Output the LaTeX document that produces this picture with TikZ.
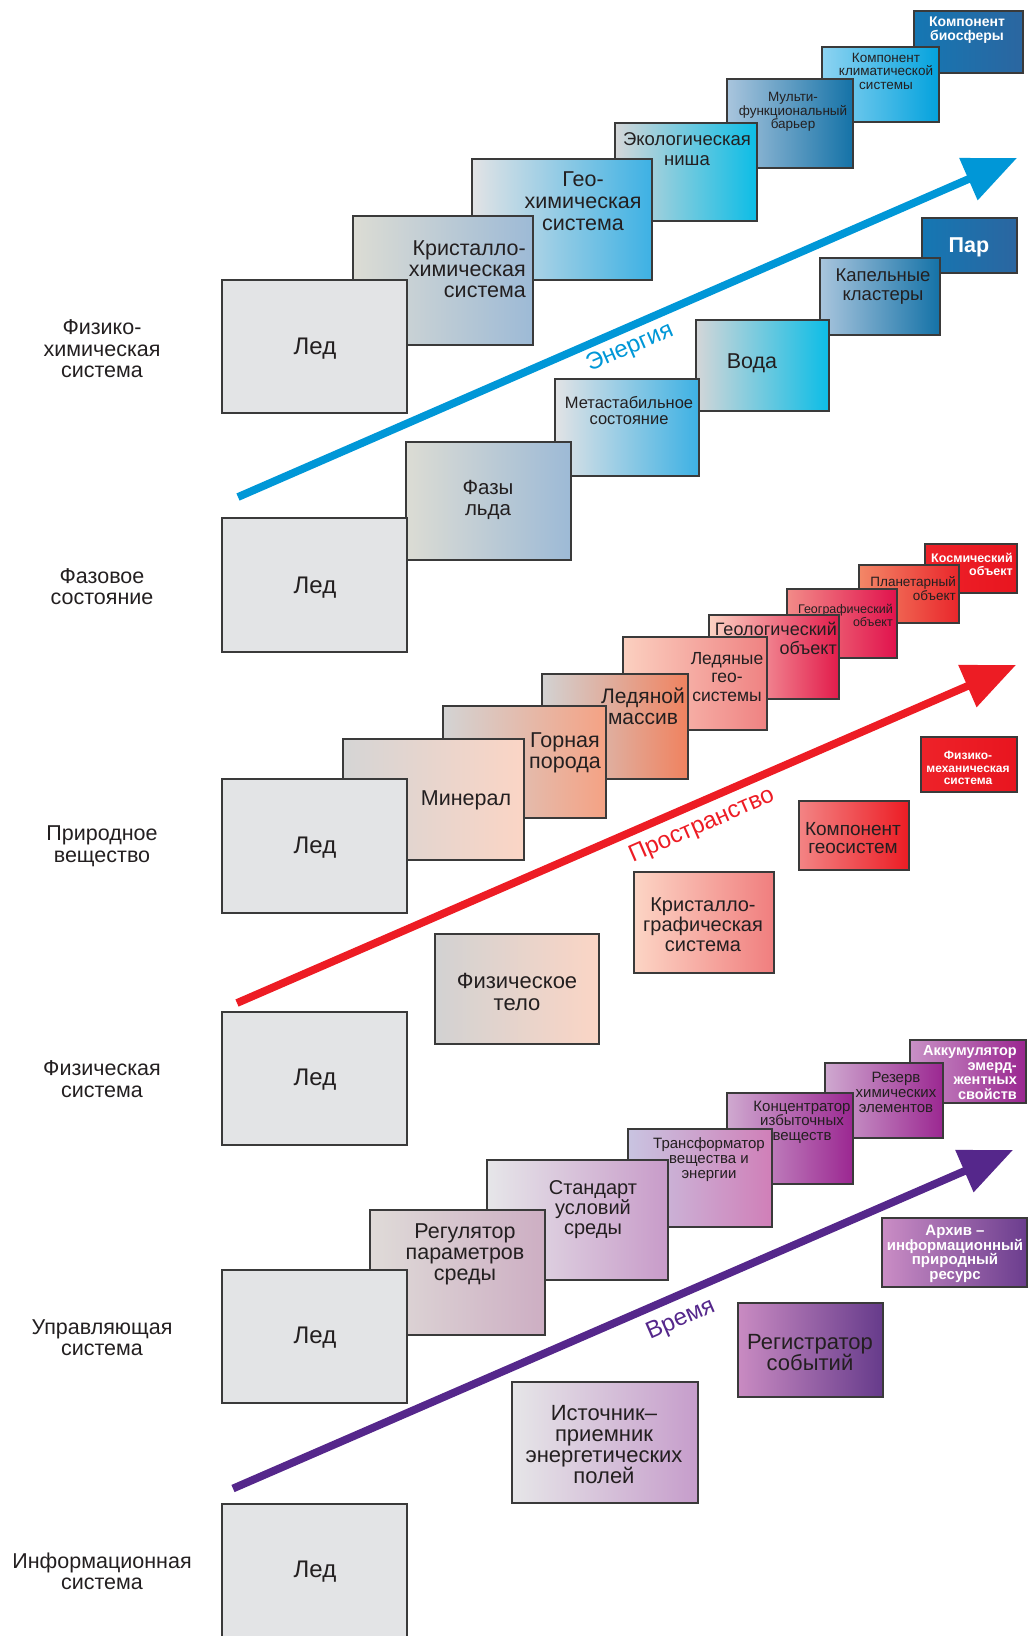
\documentclass[tikz,border=0pt]{standalone}
\usepackage{fontspec}
\setmainfont{Liberation Sans}
\usetikzlibrary{arrows.meta,fit}
\newcommand\fsz[2]{\fontsize{#1}{#2}\selectfont}
\definecolor{boxgray}{HTML}{3A3A3A}
\definecolor{textdark}{HTML}{231F20}
\definecolor{icegray}{HTML}{E3E4E6}
\definecolor{arrblue}{HTML}{0097D7}
\definecolor{arrred}{HTML}{ED1C24}
\definecolor{arrpurple}{HTML}{55278B}
\definecolor{dbL}{HTML}{1577B3}\definecolor{dbR}{HTML}{2B66A0}
\definecolor{kkL}{HTML}{8DD3F1}\definecolor{kkR}{HTML}{03A2DD}
\definecolor{muL}{HTML}{A9C5DD}\definecolor{muR}{HTML}{1472A7}
\definecolor{ekL}{HTML}{D4D6D8}\definecolor{ekR}{HTML}{0CBDE6}
\definecolor{geL}{HTML}{E2E3E5}\definecolor{geR}{HTML}{3DB1E4}
\definecolor{krL}{HTML}{DCDCD4}\definecolor{krR}{HTML}{9DBAD6}
\definecolor{rdL}{HTML}{EE2229}\definecolor{rdR}{HTML}{E8151F}
\definecolor{plL}{HTML}{F38767}\definecolor{plR}{HTML}{E9262B}
\definecolor{ggL}{HTML}{F28B88}\definecolor{ggR}{HTML}{E1124D}
\definecolor{glL}{HTML}{FCD3C3}\definecolor{glR}{HTML}{E21B4B}
\definecolor{lgL}{HTML}{FBD0C0}\definecolor{lgR}{HTML}{EF8282}
\definecolor{lmL}{HTML}{D2D2D2}\definecolor{lmR}{HTML}{F0825F}
\definecolor{gpL}{HTML}{D3D3D3}\definecolor{gpR}{HTML}{F5A284}
\definecolor{mnL}{HTML}{D5D5D5}\definecolor{mnR}{HTML}{FBD5C5}
\definecolor{kgL}{HTML}{F38484}\definecolor{kgR}{HTML}{EC1C24}
\definecolor{kgrL}{HTML}{FCD5C5}\definecolor{kgrR}{HTML}{F07E7E}
\definecolor{akL}{HTML}{C891C6}\definecolor{akR}{HTML}{9A2690}
\definecolor{rzL}{HTML}{CFA9D0}\definecolor{rzR}{HTML}{9B2791}
\definecolor{trL}{HTML}{C9C4E1}\definecolor{trR}{HTML}{D07FB8}
\definecolor{stL}{HTML}{E6E6E9}\definecolor{stR}{HTML}{C89BC9}
\definecolor{rgL}{HTML}{DFDBD8}\definecolor{rgR}{HTML}{CDAEC3}
\definecolor{arL}{HTML}{CA8DC5}\definecolor{arR}{HTML}{6B3D8E}
\definecolor{rsL}{HTML}{C98BC2}\definecolor{rsR}{HTML}{663B8B}
\definecolor{isL}{HTML}{E6E6E8}\definecolor{isR}{HTML}{C69DCB}
% helper: name, x1, y1, x2, y2, left colour, right colour
\newcommand\boxx[7]{\node[boxst, left color=#6, right color=#7, fit={(#2,#3) (#4,#5)}] (#1) {};}
\begin{document}
\begin{tikzpicture}[x=1pt,y=-1pt,
  boxst/.style={draw=boxgray, line width=1.8pt, inner sep=0pt, outer sep=0pt},
  txt/.style={inner sep=0pt, align=center, text=textdark, yshift=-2pt},
  rtxt/.style={inner sep=0pt, align=right, text=textdark, anchor=east, yshift=-2pt},
  wtxt/.style={inner sep=0pt, align=center, text=white, yshift=-2pt},
  wrtxt/.style={inner sep=0pt, align=right, text=white, anchor=east, yshift=-1pt},
  lbl/.style={inner sep=0pt, align=center, text=textdark, font=\fsz{21.5}{21.5}},
  ice/.style={inner sep=0pt, text=textdark, font=\fsz{24}{24}, yshift=-2pt},
  bigarrow/.style={line width=7.8pt, -{Triangle[length=53pt,width=44pt]}},
  arrlbl/.style={inner sep=0pt, rotate=23.5, font=\fsz{24}{24}}]
\path[use as bounding box] (0,0) rectangle (1029,1636);
\clip (0,0) rectangle (1029,1636);

% ---------- left labels ----------
\node[lbl] (l1) at (102,349) {Физико-\\химическая\\система};
\node[lbl] (l2) at (102,586.5) {Фазовое\\состояние};
\node[lbl] (l3) at (102,846) {Природное\\вещество};
\node[lbl] (l4) at (102,1079) {Физическая\\система};
\node[lbl] (l5) at (102,1337.5) {Управляющая\\система};
\node[lbl] (l6) at (102,1571.5) {Информационная\\система};

% ---------- physico-chemical staircase ----------
\boxx{kbio}{914}{11}{1023}{73}{dbL}{dbR}
\node[wtxt, font=\fsz{14}{14.5}\bfseries] (kbiot) at (967,28) {Компонент\\биосферы};
\boxx{kklim}{822}{47}{939}{122}{kkL}{kkR}
\node[txt, font=\fsz{13.5}{13.5}] (kklimt) at (886,69) {Компонент\\климатической\\системы};
\boxx{mult}{727}{79}{853}{168}{muL}{muR}
\node[txt, font=\fsz{13.5}{13.3}] (multt) at (793,110) {Мульти-\\функциональный\\барьер};
\boxx{eko}{615}{123}{757}{221}{ekL}{ekR}
\node[txt, font=\fsz{18.5}{19.5}] (ekot) at (687,147) {Экологическая\\ниша};
\boxx{geo}{472}{159}{652}{280}{geL}{geR}
\node[txt, font=\fsz{21.5}{22}] (geot) at (583,199) {Гео-\\химическая\\система};
\boxx{kris}{353}{216}{533}{345}{krL}{krR}
\node[rtxt, font=\fsz{21.5}{21}] (krist) at (526,267) {Кристалло-\\химическая\\система};
\boxx{ice1}{222}{280}{407}{413}{icegray}{icegray}
\node[ice] (ice1t) at (315,347) {Лед};

% ---------- phase staircase ----------
\boxx{par}{922}{218}{1017}{273}{dbL}{dbR}
\node[wtxt, font=\fsz{21.5}{21.5}\bfseries] (part) at (969,245) {Пар};
\boxx{kap}{820}{258}{940}{335}{muL}{muR}
\node[txt, font=\fsz{18.5}{19}] (kapt) at (883,285) {Капельные\\кластеры};
\boxx{voda}{696}{320}{829}{411}{ekL}{ekR}
\node[txt, font=\fsz{21.5}{21.5}] (vodat) at (752,361) {Вода};
\boxx{meta}{555}{379}{699}{476}{geL}{geR}
\node[txt, font=\fsz{16.5}{16}] (metat) at (629,409) {Метастабильное\\состояние};
\boxx{faz}{406}{442}{571}{560}{krL}{krR}
\node[txt, font=\fsz{20.5}{21}] (fazt) at (488,498) {Фазы\\льда};
\boxx{ice2}{222}{518}{407}{652}{icegray}{icegray}
\node[ice] (ice2t) at (315,586) {Лед};

% ---------- natural substance staircase ----------
\boxx{kosm}{925}{544}{1017}{593}{rdL}{rdR}
\node[wrtxt, font=\fsz{12.5}{13}\bfseries] (kosmt) at (1013,563.5) {Космический\\объект};
\boxx{plan}{859}{565}{959}{623}{plL}{plR}
\node[rtxt, font=\fsz{13.5}{13.3}] (plant) at (956,586.5) {Планетарный\\объект};
\boxx{geog}{787}{589}{897}{658}{ggL}{ggR}
\node[rtxt, font=\fsz{12.5}{13}] (geogt) at (893,613.5) {Географический\\объект};
\boxx{geol}{709}{615}{839}{699}{glL}{glR}
\node[rtxt, font=\fsz{18}{19}] (geolt) at (837,636.5) {Геологический\\объект};
\boxx{ledg}{623}{637}{767}{730}{lgL}{lgR}
\node[txt, font=\fsz{17.5}{18.3}] (ledgt) at (727,675) {Ледяные\\гео-\\системы};
\boxx{ledm}{542}{674}{688}{779}{lmL}{lmR}
\node[txt, font=\fsz{21}{21}] (ledmt) at (643,704.5) {Ледяной\\массив};
\boxx{gorn}{443}{706}{606}{818}{gpL}{gpR}
\node[txt, font=\fsz{21.5}{21}] (gornt) at (565,750.5) {Горная\\порода};
\boxx{mine}{343}{739}{524}{860}{mnL}{mnR}
\node[txt, font=\fsz{21.5}{21.5}] (minet) at (466,798) {Минерал};
\boxx{ice3}{222}{779}{407}{913}{icegray}{icegray}
\node[ice] (ice3t) at (315,846) {Лед};

% ---------- physical system boxes ----------
\boxx{fmech}{921}{737}{1017}{792}{rdL}{rdR}
\node[wtxt, font=\fsz{12}{12.5}\bfseries] (fmecht) at (968,766) {Физико-\\механическая\\система};
\boxx{kgeo}{799}{801}{909}{870}{kgL}{kgR}
\node[txt, font=\fsz{19}{18.5}] (kgeot) at (853,836) {Компонент\\геосистем};
\boxx{krgr}{634}{872}{774}{973}{kgrL}{kgrR}
\node[txt, font=\fsz{20}{20}] (krgrt) at (703,923) {Кристалло-\\графическая\\система};
\boxx{fizt}{435}{934}{599}{1044}{lmL}{mnR}
\node[txt, font=\fsz{22}{22}] (fiztt) at (517,990) {Физическое\\тело};
\boxx{ice4}{222}{1012}{407}{1145}{icegray}{icegray}
\node[ice] (ice4t) at (315,1078) {Лед};

% ---------- control system staircase ----------
\boxx{akk}{910}{1040}{1026}{1103}{akL}{akR}
\node[wrtxt, font=\fsz{14.5}{14.5}\bfseries] (akkt) at (1017,1071.5) {Аккумулятор\\эмерд-\\жентных\\свойств};
\boxx{rez}{825}{1063}{943}{1138}{rzL}{rzR}
\node[txt, font=\fsz{15}{15}] (rezt) at (896,1090) {Резерв\\химических\\элементов};
\boxx{konc}{727}{1093}{853}{1184}{rzL}{rzR}
\node[txt, font=\fsz{15}{14.5}] (konct) at (802,1120) {Концентратор\\избыточных\\веществ};
\boxx{trans}{628}{1129}{772}{1227}{trL}{trR}
\node[txt, font=\fsz{15}{15}] (transt) at (709,1158) {Трансформатор\\вещества и\\энергии};
\boxx{stand}{487}{1160}{668}{1280}{stL}{stR}
\node[txt, font=\fsz{20}{20}] (standt) at (593,1208) {Стандарт\\условий\\среды};
\boxx{reg}{370}{1210}{545}{1335}{rgL}{rgR}
\node[txt, font=\fsz{21.5}{21}] (regt) at (465,1252) {Регулятор\\параметров\\среды};
\boxx{ice5}{222}{1270}{407}{1403}{icegray}{icegray}
\node[ice] (ice5t) at (315,1336) {Лед};

% ---------- information system boxes ----------
\boxx{arh}{882}{1218}{1027}{1287}{arL}{arR}
\node[wtxt, font=\fsz{15}{14.7}\bfseries] (arht) at (955,1252) {Архив –\\информационный\\природный\\ресурс};
\boxx{regs}{738}{1303}{883}{1397}{rsL}{rsR}
\node[txt, font=\fsz{22}{21}] (regst) at (810,1351) {Регистратор\\событий};
\boxx{ist}{512}{1382}{698}{1503}{isL}{isR}
\node[txt, font=\fsz{22}{21}] (istt) at (604,1442.5) {Источник–\\приемник\\энергетических\\полей};
\boxx{ice6}{222}{1504}{407}{1640}{icegray}{icegray}
\node[ice] (ice6t) at (315,1570) {Лед};

% ---------- arrows ----------
\coordinate (ea) at (238,497);   \coordinate (eb) at (1017,158);
\coordinate (sa) at (237,1003);  \coordinate (sb) at (1016,665);
\coordinate (ta) at (233,1488.5);\coordinate (tb) at (1013,1150);
\draw[bigarrow, draw=arrblue, fill=arrblue] (ea) -- (eb);
\draw[bigarrow, draw=arrred, fill=arrred] (sa) -- (sb);
\draw[bigarrow, draw=arrpurple, fill=arrpurple] (ta) -- (tb);
\node[arrlbl, text=arrblue] (enl) at (630,348) {Энергия};
\node[arrlbl, text=arrred] (spl) at (702,826) {Пространство};
\node[arrlbl, text=arrpurple] (tml) at (681,1320) {Время};
\end{tikzpicture}
\end{document}
